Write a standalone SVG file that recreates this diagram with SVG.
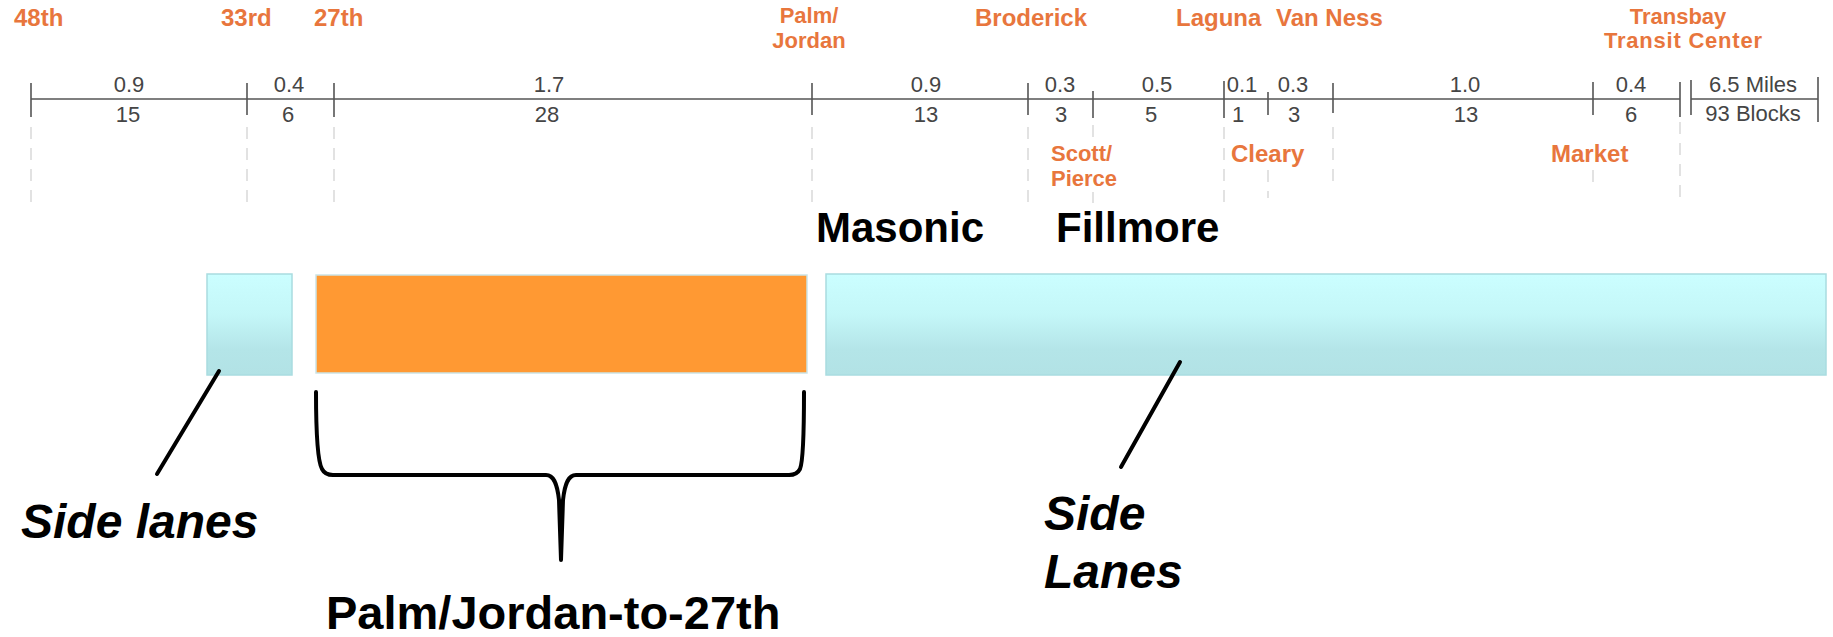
<svg xmlns="http://www.w3.org/2000/svg" width="1833" height="637" viewBox="0 0 1833 637">
<style>
.stn{font-family:"Liberation Sans",Arial,sans-serif;font-weight:bold;font-size:24px;fill:#E8763D}
.stn2{font-family:"Liberation Sans",Arial,sans-serif;font-weight:bold;font-size:22px;fill:#E8763D}
.num{font-family:"Liberation Sans",Arial,sans-serif;font-size:22px;fill:#454545;text-anchor:middle}
.big{font-family:"Liberation Sans",Arial,sans-serif;font-weight:bold;font-size:42px;fill:#000}
.lbl{font-family:"Liberation Sans",Arial,sans-serif;font-weight:bold;font-style:italic;font-size:48px;fill:#000}
.axis{stroke:#555;stroke-width:1.6;fill:none}
.dash{stroke:#cfcfcf;stroke-width:1.2;stroke-dasharray:12 9;fill:none}
.lead{stroke:#000;stroke-width:4;fill:none;stroke-linecap:round}
.cyan{fill:url(#cg);stroke:#A9DCE0;stroke-width:1.5}
.orange{fill:#FF9933;stroke:#CBE4E6;stroke-width:1.5}
</style>
<defs>
<linearGradient id="cg" x1="0" y1="0" x2="0" y2="1">
<stop offset="0" stop-color="#CBFEFF"/>
<stop offset="0.4" stop-color="#C4F7F8"/>
<stop offset="0.75" stop-color="#B4E5E8"/>
<stop offset="1" stop-color="#B2E2E5"/>
</linearGradient>
</defs>
<rect width="1833" height="637" fill="#fff"/>

<g id="scale">
<path class="axis" d="M31,99H1680M1691,99H1818"/>
<path class="axis" d="M31,83V117M247,83V115M334,83V117M812,83V115M1028,83V115M1093,91V118M1224,81V118M1268,92V115M1333,83V113M1593,82V115M1680,82V117M1691,80V115M1818,77V122"/>
<path class="dash" d="M31,127V203M247,127V203M334,127V203M812,127V203M1028,127V203M1093,125V140M1093,192V203M1224,127V203M1268,170V198M1333,127V184M1593,170V188M1680,122V203"/>
<text class="num" x="129" y="92">0.9</text><text class="num" x="128" y="122">15</text>
<text class="num" x="289" y="92">0.4</text><text class="num" x="288" y="122">6</text>
<text class="num" x="549" y="92">1.7</text><text class="num" x="547" y="122">28</text>
<text class="num" x="926" y="92">0.9</text><text class="num" x="926" y="122">13</text>
<text class="num" x="1060" y="92">0.3</text><text class="num" x="1061" y="122">3</text>
<text class="num" x="1157" y="92">0.5</text><text class="num" x="1151" y="122">5</text>
<text class="num" x="1242" y="92">0.1</text><text class="num" x="1238" y="122">1</text>
<text class="num" x="1293" y="92">0.3</text><text class="num" x="1294" y="122">3</text>
<text class="num" x="1465" y="92">1.0</text><text class="num" x="1466" y="122">13</text>
<text class="num" x="1631" y="92">0.4</text><text class="num" x="1631" y="122">6</text>
<text class="num" x="1753" y="92">6.5 Miles</text><text class="num" x="1753" y="121">93 Blocks</text>
</g>

<g id="stations">
<text class="stn" x="14" y="26">48th</text>
<text class="stn" x="221" y="26">33rd</text>
<text class="stn" x="314" y="26">27th</text>
<text class="stn2" x="809" y="23" text-anchor="middle">Palm/</text>
<text class="stn2" x="809" y="48" text-anchor="middle">Jordan</text>
<text class="stn" x="975" y="26">Broderick</text>
<text class="stn" x="1176" y="26">Laguna</text>
<text class="stn" x="1276" y="26">Van Ness</text>
<text class="stn2" x="1678" y="24" text-anchor="middle">Transbay</text>
<text class="stn2" x="1683" y="48" text-anchor="middle" textLength="158">Transit Center</text>
<text class="stn2" x="1051" y="161">Scott/</text>
<text class="stn2" x="1051" y="186">Pierce</text>
<text class="stn" x="1231" y="162">Cleary</text>
<text class="stn" x="1551" y="162">Market</text>
</g>

<g id="masonic"><text class="big" x="816" y="242">Masonic</text></g>
<g id="fillmore"><text class="big" x="1056" y="242">Fillmore</text></g>

<g id="side-left"><rect class="cyan" x="207" y="274" width="85" height="101"/></g>
<g id="center-segment"><rect class="orange" x="316" y="275" width="491" height="98"/></g>
<g id="side-right"><rect class="cyan" x="826" y="274" width="1000" height="101"/></g>

<g id="connectors">
<path class="lead" d="M219,371L157,474"/>
<path class="lead" d="M1180,362L1121,467"/>
<path class="lead" stroke-linejoin="round" d="M316,392C316,440 318,462 322,469C324,473 327,475 333,475L546,475C553,475 557,482 559,500L561,560L563,500C565,482 569,475 576,475L789,475C795,475 798,473 800,469C803,462 804,440 804,392"/>
</g>

<g id="label-side-lanes"><text class="lbl" x="21" y="538">Side lanes</text></g>
<g id="label-side-lanes-right"><text class="lbl" x="1044" y="530">Side</text><text class="lbl" x="1044" y="588">Lanes</text></g>
<g id="label-palm"><text class="big" x="326" y="629" style="font-size:47px">Palm/Jordan-to-27th</text></g>
</svg>
